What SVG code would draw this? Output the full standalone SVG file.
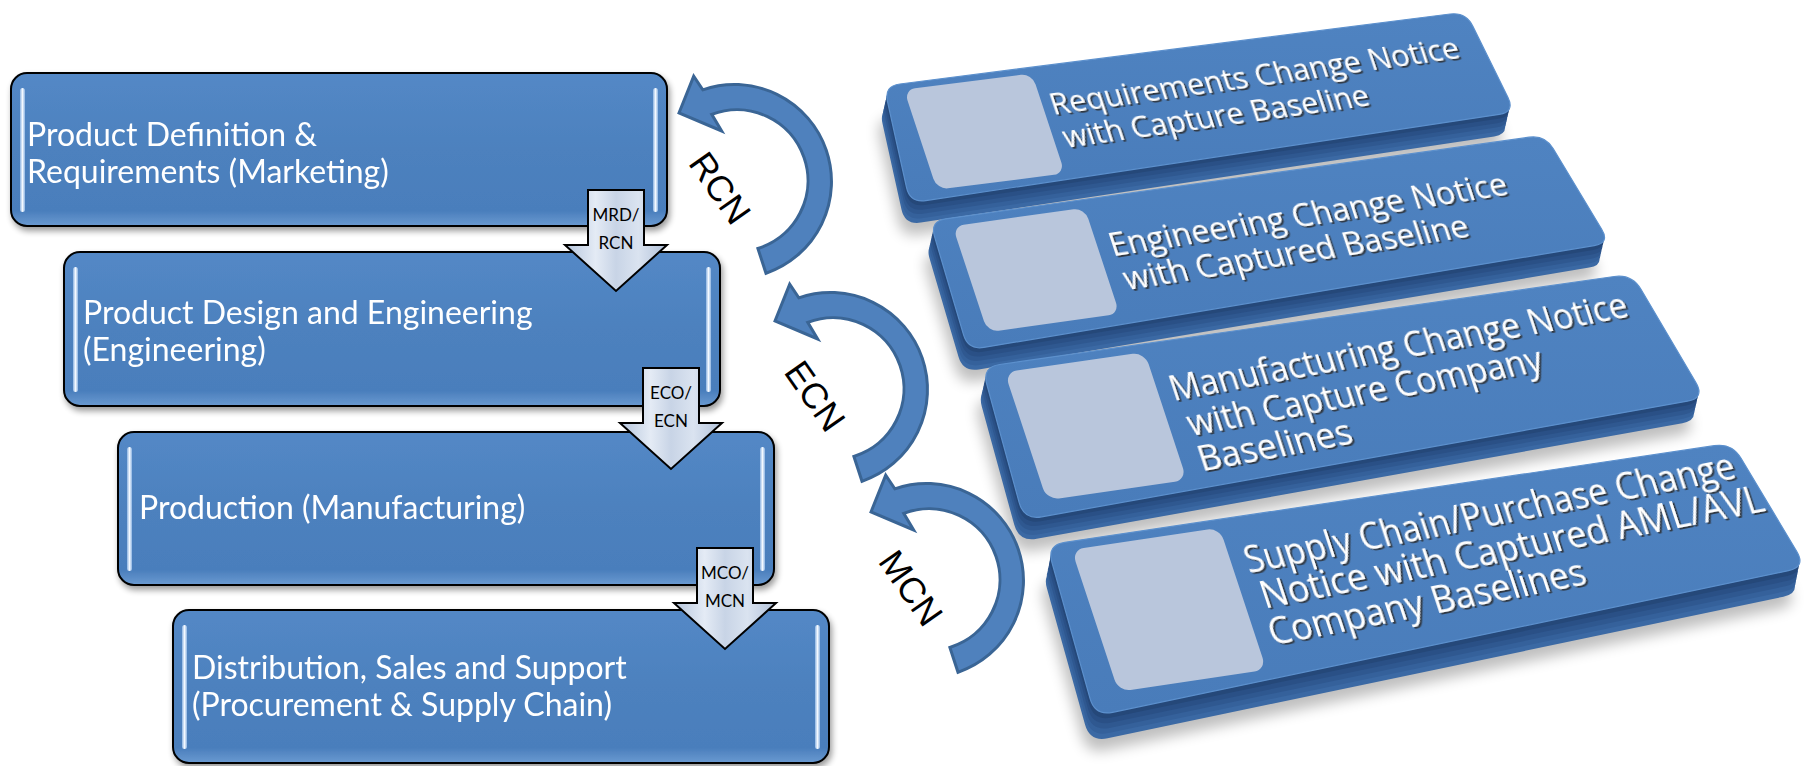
<svg xmlns="http://www.w3.org/2000/svg" width="1813" height="766" viewBox="0 0 1813 766">
<defs>
  <linearGradient id="boxFill" x1="0" y1="0" x2="0" y2="1">
    <stop offset="0" stop-color="#5388C6"/>
    <stop offset="0.5" stop-color="#4D81BE"/>
    <stop offset="0.9" stop-color="#4A7EBC"/>
    <stop offset="1" stop-color="#6A9AD1"/>
  </linearGradient>
  <linearGradient id="hl" x1="0" y1="0" x2="1" y2="0">
    <stop offset="0" stop-color="#8DB4E2"/>
    <stop offset="0.5" stop-color="#F4F9FF"/>
    <stop offset="1" stop-color="#8DB4E2"/>
  </linearGradient>
  <linearGradient id="arrFill" x1="0" y1="0" x2="1" y2="0">
    <stop offset="0" stop-color="#B5C5DC"/>
    <stop offset="0.3" stop-color="#E4EBF5"/>
    <stop offset="0.5" stop-color="#C8D4E6"/>
    <stop offset="0.72" stop-color="#DAE3F0"/>
    <stop offset="1" stop-color="#B1C1D9"/>
  </linearGradient>
  <linearGradient id="topFace" x1="0" y1="0" x2="0" y2="1">
    <stop offset="0" stop-color="#4F83C1"/>
    <stop offset="1" stop-color="#497CBA"/>
  </linearGradient>
  <filter id="sh" x="-5%" y="-10%" width="115%" height="130%">
    <feGaussianBlur in="SourceAlpha" stdDeviation="3"/>
    <feOffset dx="2" dy="4"/>
    <feComponentTransfer><feFuncA type="linear" slope="0.4"/></feComponentTransfer>
    <feMerge><feMergeNode/><feMergeNode in="SourceGraphic"/></feMerge>
  </filter>
  <filter id="blur" x="-20%" y="-50%" width="140%" height="200%">
    <feGaussianBlur stdDeviation="7"/>
  </filter>
  <filter id="tsh" x="-5%" y="-20%" width="110%" height="140%">
    <feDropShadow dx="1.6" dy="1.8" stdDeviation="0.7" flood-color="#2a2a2a" flood-opacity="0.85"/>
  </filter>
  <path id="carc" d="M-57,-68 L-42.3,-104.8 L-33.2,-91.2 A97,97 0 1 1 30,92.3 L21.9,67.5 A71,71 0 1 0 -24.3,-66.7 L-14.3,-50 Z"/>
  <path id="s1p" d="M899.9,84 L1450.1,14 Q1466,12 1473,26.4 L1508,97.6 Q1515,112 1499.2,114.4 L925.8,200.6 Q910,203 906.5,187.4 L887.5,101.6 Q884,86 899.9,84 Z"/>
  <path id="s2p" d="M945.8,218.8 L1529.2,137.2 Q1545,135 1553.3,148.7 L1601.7,229.3 Q1610,243 1594.2,245.6 L983.8,347.4 Q968,350 963.5,334.7 L934.5,236.3 Q930,221 945.8,218.8 Z"/>
  <path id="s3p" d="M999.8,364.5 L1614.2,276.5 Q1632,274 1641.1,289.5 L1695.9,382.5 Q1705,398 1687.3,401.2 L1041.7,516.8 Q1024,520 1019.2,502.6 L986.8,384.4 Q982,367 999.8,364.5 Z"/>
  <path id="s4p" d="M1064.8,542.3 L1714.2,445.7 Q1732,443 1741.2,458.5 L1796.8,551.5 Q1806,567 1788.4,570.7 L1112.6,712.3 Q1095,716 1090.1,698.7 L1051.9,562.3 Q1047,545 1064.8,542.3 Z"/>
  <style>
    .box { fill: url(#boxFill); stroke: #000; stroke-width: 2; }
    .hl { fill: url(#hl); }
    .bt { font-family: Lato, "Liberation Sans", sans-serif; font-size: 32px; fill: #fff; }
    .darr { fill: url(#arrFill); stroke: #000; stroke-width: 2; stroke-linejoin: miter; }
    .al { font-family: Lato, "Liberation Sans", sans-serif; font-size: 17px; fill: #000; text-anchor: middle; }
    .carc { fill: #4F81BD; stroke: #3A6595; stroke-width: 3; stroke-linejoin: miter; }
    .cl { font-family: "Liberation Sans", Arial, sans-serif; font-size: 36px; fill: #000; text-anchor: middle; dominant-baseline: central; }
    .top { fill: url(#topFace); stroke: #5C90CD; stroke-width: 1.2; }
    .e1 { fill: #3B69A4; } .e2 { fill: #35619B; } .e3 { fill: #2F5890; } .e4 { fill: #2A5086; } .e5 { fill: #254879; }
    .sq { fill: #B9C6DC; }
    .st { font-family: "Open Sans", "Liberation Sans", sans-serif; fill: #fff; }
    .shd { fill: #000; opacity: 0.25; }
  </style>
</defs>

<rect width="1813" height="766" fill="#fff"/>

<!-- right-side slabs -->
<g id="slab1">
  <use href="#s1p" class="shd" transform="translate(-8,34)" filter="url(#blur)"/>
  <use href="#s1p" class="e1" transform="translate(-5,22)"/>
  <use href="#s1p" class="e2" transform="translate(-4,17.6)"/>
  <use href="#s1p" class="e3" transform="translate(-3,13.2)"/>
  <use href="#s1p" class="e4" transform="translate(-2,8.8)"/>
  <use href="#s1p" class="e5" transform="translate(-1,4.4)"/>
  <use href="#s1p" class="top"/>
  <rect class="sq" transform="matrix(1 -0.127 0.33 1 884 86)" x="18" y="6" width="128" height="100" rx="11"/>
  <g class="st" font-size="30" filter="url(#tsh)" transform="matrix(1 -0.14 0.33 1 884 86)">
    <text x="153" y="50" textLength="408" lengthAdjust="spacingAndGlyphs">Requirements Change Notice</text>
    <text x="155" y="84" textLength="305" lengthAdjust="spacingAndGlyphs">with Capture Baseline</text>
  </g>
</g>

<g id="slab2">
  <use href="#s2p" class="shd" transform="translate(-8,34)" filter="url(#blur)"/>
  <use href="#s2p" class="e1" transform="translate(-5,22)"/>
  <use href="#s2p" class="e2" transform="translate(-4,17.6)"/>
  <use href="#s2p" class="e3" transform="translate(-3,13.2)"/>
  <use href="#s2p" class="e4" transform="translate(-2,8.8)"/>
  <use href="#s2p" class="e5" transform="translate(-1,4.4)"/>
  <use href="#s2p" class="top"/>
  <rect class="sq" transform="matrix(1 -0.14 0.33 1 930 221)" x="20" y="8" width="132" height="106" rx="11"/>
  <g class="st" font-size="32" filter="url(#tsh)" transform="matrix(1 -0.156 0.33 1 930 221)">
    <text x="163" y="61" textLength="397" lengthAdjust="spacingAndGlyphs">Engineering Change Notice</text>
    <text x="166" y="95" textLength="344" lengthAdjust="spacingAndGlyphs">with Captured Baseline</text>
  </g>
</g>

<g id="slab3">
  <use href="#s3p" class="shd" transform="translate(-8,34)" filter="url(#blur)"/>
  <use href="#s3p" class="e1" transform="translate(-5,22)"/>
  <use href="#s3p" class="e2" transform="translate(-4,17.6)"/>
  <use href="#s3p" class="e3" transform="translate(-3,13.2)"/>
  <use href="#s3p" class="e4" transform="translate(-2,8.8)"/>
  <use href="#s3p" class="e5" transform="translate(-1,4.4)"/>
  <use href="#s3p" class="top"/>
  <rect class="sq" transform="matrix(1 -0.143 0.33 1 982 367)" x="20" y="8" width="140" height="128" rx="12"/>
  <g class="st" font-size="34" filter="url(#tsh)" transform="matrix(1 -0.185 0.33 1 982 367)">
    <text x="170" y="66" textLength="457" lengthAdjust="spacingAndGlyphs">Manufacturing Change Notice</text>
    <text x="176" y="102" textLength="354" lengthAdjust="spacingAndGlyphs">with Capture Company</text>
    <text x="175" y="137" textLength="153" lengthAdjust="spacingAndGlyphs">Baselines</text>
  </g>
</g>

<g id="slab4">
  <use href="#s4p" class="shd" transform="translate(-8,38)" filter="url(#blur)"/>
  <use href="#s4p" class="e1" transform="translate(-5,26)"/>
  <use href="#s4p" class="e2" transform="translate(-4,20.8)"/>
  <use href="#s4p" class="e3" transform="translate(-3,15.6)"/>
  <use href="#s4p" class="e4" transform="translate(-2,10.4)"/>
  <use href="#s4p" class="e5" transform="translate(-1,5.2)"/>
  <use href="#s4p" class="top"/>
  <rect class="sq" transform="matrix(1 -0.149 0.33 1 1047 545)" x="22" y="8" width="148" height="142" rx="12"/>
  <g class="st" font-size="36" filter="url(#tsh)" transform="matrix(1 -0.195 0.33 1 1047 545)">
    <text x="181" y="64" textLength="489" lengthAdjust="spacingAndGlyphs">Supply Chain/Purchase Change</text>
    <text x="185" y="100" textLength="502" lengthAdjust="spacingAndGlyphs">Notice with Captured AML/AVL</text>
    <text x="181" y="136" textLength="316" lengthAdjust="spacingAndGlyphs">Company Baselines</text>
  </g>
</g>

<!-- left process boxes -->
<g id="box1" filter="url(#sh)">
  <rect class="box" x="11" y="73" width="656" height="153" rx="16"/>
  <rect class="hl" x="20" y="88" width="5" height="124" rx="2.5"/>
  <rect class="hl" x="653" y="88" width="5" height="124" rx="2.5"/>
  <text class="bt" x="27" y="146">Product Definition &amp;</text>
  <text class="bt" x="27" y="183">Requirements (Marketing)</text>
</g>
<g id="box2" filter="url(#sh)">
  <rect class="box" x="64" y="252" width="656" height="154" rx="16"/>
  <rect class="hl" x="73" y="267" width="5" height="125" rx="2.5"/>
  <rect class="hl" x="706" y="267" width="5" height="125" rx="2.5"/>
  <text class="bt" x="83" y="324">Product Design and Engineering</text>
  <text class="bt" x="83" y="361">(Engineering)</text>
</g>
<g id="box3" filter="url(#sh)">
  <rect class="box" x="118" y="432" width="656" height="153" rx="16"/>
  <rect class="hl" x="127" y="447" width="5" height="124" rx="2.5"/>
  <rect class="hl" x="760" y="447" width="5" height="124" rx="2.5"/>
  <text class="bt" x="139" y="519">Production (Manufacturing)</text>
</g>
<g id="box4" filter="url(#sh)">
  <rect class="box" x="173" y="610" width="656" height="153" rx="16"/>
  <rect class="hl" x="182" y="625" width="5" height="124" rx="2.5"/>
  <rect class="hl" x="815" y="625" width="5" height="124" rx="2.5"/>
  <text class="bt" x="192" y="679">Distribution, Sales and Support</text>
  <text class="bt" x="192" y="716">(Procurement &amp; Supply Chain)</text>
</g>

<!-- connectors -->
<g id="connectors">
  <path class="darr" d="M588,190 L644,190 L644,245 L667,245 L616,291 L565,245 L588,245 Z"/>
  <text class="al" x="616" y="221">MRD/</text>
  <text class="al" x="616" y="249">RCN</text>

  <path class="darr" d="M643,368 L699,368 L699,423 L722,423 L671,469 L620,423 L643,423 Z"/>
  <text class="al" x="671" y="399">ECO/</text>
  <text class="al" x="671" y="427">ECN</text>

  <path class="darr" d="M697,548 L753,548 L753,603 L776,603 L725,649 L674,603 L697,603 Z"/>
  <text class="al" x="725" y="579">MCO/</text>
  <text class="al" x="725" y="607">MCN</text>

  <use href="#carc" class="carc" transform="translate(736,181)"/>
  <use href="#carc" class="carc" transform="translate(832,389)"/>
  <use href="#carc" class="carc" transform="translate(928,580)"/>
  <text class="cl" transform="translate(720,188) rotate(55)">RCN</text>
  <text class="cl" transform="translate(815,396) rotate(55)">ECN</text>
  <text class="cl" transform="translate(911,588) rotate(55)">MCN</text>
</g>
</svg>
